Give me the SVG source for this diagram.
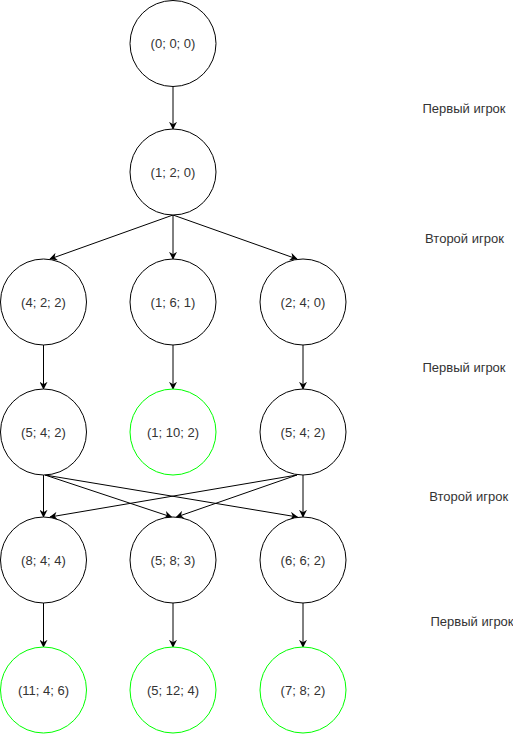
<svg xmlns="http://www.w3.org/2000/svg" width="513" height="734" viewBox="0 0 513 734">
<style>
.n{fill:#fff;stroke:#000;stroke-width:1}
.g{fill:#fff;stroke:#00ff00;stroke-width:1}
.t{font-family:"Liberation Sans",Arial,sans-serif;font-size:13px;fill:#333;text-anchor:middle;dominant-baseline:central}
.e{stroke:#000;stroke-width:1;fill:none;marker-end:url(#a)}
</style>
<defs>
<marker id="a" viewBox="0 0 10 10" refX="9" refY="5" markerWidth="8" markerHeight="8" markerUnits="userSpaceOnUse" orient="auto">
<path d="M0,0 L10,5 L0,10 L3,5 Z" fill="#000"/>
</marker>
</defs>
<g id="connectors">
<line class="e" x1="173" y1="86.5" x2="173" y2="129"/>
<line class="e" x1="173" y1="215" x2="50" y2="259"/>
<line class="e" x1="173" y1="215" x2="173" y2="259"/>
<line class="e" x1="173" y1="215" x2="297" y2="259"/>
<line class="e" x1="43.5" y1="345" x2="43.5" y2="389"/>
<line class="e" x1="173" y1="345" x2="173" y2="389"/>
<line class="e" x1="303" y1="345" x2="303" y2="389"/>
<line class="e" x1="43.5" y1="475" x2="43.5" y2="517"/>
<line class="e" x1="45" y1="475" x2="171.5" y2="517"/>
<line class="e" x1="45" y1="475" x2="297.5" y2="517"/>
<line class="e" x1="303" y1="475" x2="303" y2="517"/>
<line class="e" x1="297" y1="475" x2="176.5" y2="517"/>
<line class="e" x1="297" y1="475" x2="50" y2="517"/>
<line class="e" x1="43.5" y1="603" x2="43.5" y2="647"/>
<line class="e" x1="173" y1="603" x2="173" y2="647"/>
<line class="e" x1="303" y1="603" x2="303" y2="647"/>
</g>
<g id="n000"><circle class="n" cx="173" cy="43.5" r="43"/><text class="t" x="173" y="43.5">(0; 0; 0)</text></g>
<g id="n120"><circle class="n" cx="173" cy="172" r="43"/><text class="t" x="173" y="172">(1; 2; 0)</text></g>
<g id="n422"><circle class="n" cx="43.5" cy="302" r="43"/><text class="t" x="43.5" y="302">(4; 2; 2)</text></g>
<g id="n161"><circle class="n" cx="173" cy="302" r="43"/><text class="t" x="173" y="302">(1; 6; 1)</text></g>
<g id="n240"><circle class="n" cx="303" cy="302" r="43"/><text class="t" x="303" y="302">(2; 4; 0)</text></g>
<g id="n542a"><circle class="n" cx="43.5" cy="432" r="43"/><text class="t" x="43.5" y="432">(5; 4; 2)</text></g>
<g id="n1102"><circle class="g" cx="173" cy="432" r="43"/><text class="t" x="173" y="432">(1; 10; 2)</text></g>
<g id="n542b"><circle class="n" cx="303" cy="432" r="43"/><text class="t" x="303" y="432">(5; 4; 2)</text></g>
<g id="n844"><circle class="n" cx="43.5" cy="560" r="43"/><text class="t" x="43.5" y="560">(8; 4; 4)</text></g>
<g id="n583"><circle class="n" cx="173" cy="560" r="43"/><text class="t" x="173" y="560">(5; 8; 3)</text></g>
<g id="n662"><circle class="n" cx="303" cy="560" r="43"/><text class="t" x="303" y="560">(6; 6; 2)</text></g>
<g id="n1146"><circle class="g" cx="43.5" cy="690" r="43"/><text class="t" x="43.5" y="690">(11; 4; 6)</text></g>
<g id="n5124"><circle class="g" cx="173" cy="690" r="43"/><text class="t" x="173" y="690">(5; 12; 4)</text></g>
<g id="n782"><circle class="g" cx="303" cy="690" r="43"/><text class="t" x="303" y="690">(7; 8; 2)</text></g>
<g id="labels">
<text class="t" x="464" y="108">Первый игрок</text>
<text class="t" x="464.5" y="238">Второй игрок</text>
<text class="t" x="464" y="367">Первый игрок</text>
<text class="t" x="468.7" y="496">Второй игрок</text>
<text class="t" x="472" y="621">Первый игрок</text>
</g>
</svg>
